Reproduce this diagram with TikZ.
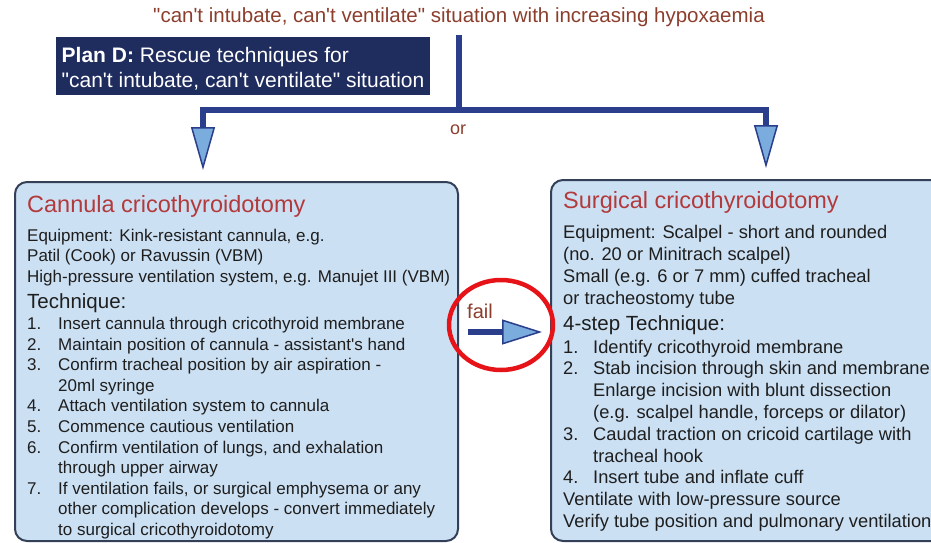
\documentclass[tikz,border=0pt]{standalone}
\usepackage{fontspec}
\setmainfont{Liberation Sans}[Ligatures=TeXOff]
\usepackage{tikz}
\usetikzlibrary{arrows.meta}
\definecolor{boxblue}{RGB}{204,224,243}
\definecolor{boxedge}{RGB}{52,64,88}
\definecolor{plannavy}{RGB}{31,44,94}
\definecolor{flowblue}{RGB}{42,62,140}
\definecolor{headblue}{RGB}{122,172,222}
\definecolor{toptext}{RGB}{140,62,45}
\definecolor{titlered}{RGB}{178,58,60}
\definecolor{bodytext}{RGB}{30,30,30}
\definecolor{ringred}{RGB}{230,20,25}
\newcommand\stepno[1]{\makebox[31pt][l]{#1}}
\newcommand\stepgap{\hspace*{31pt}}
\newcommand\rstepno[1]{\makebox[30pt][l]{#1}}
\newcommand\rstepgap{\hspace*{30pt}}

\begin{document}
\begin{tikzpicture}[
x=1pt,y=-1pt,
panel/.style={draw=boxedge,line width=2pt,rounded corners=12pt,fill=boxblue,inner sep=0pt},
body/.style={inner sep=0pt,anchor=north west,align=left,text=bodytext},
head/.style={inner sep=0pt,anchor=base west,text=titlered,font=\fontsize{23.5}{28}\selectfont},
subhead/.style={inner sep=0pt,anchor=base west,text=bodytext,font=\fontsize{20.5}{24}\selectfont},
flow/.style={draw=flowblue,line width=5.5pt,line join=miter},
>={Triangle[length=43pt,width=24pt,fill=headblue,line width=1.5pt]}
]
\useasboundingbox (0,0) rectangle (931,543);
\clip (0,0) rectangle (931,543);

% top of the chart
\node[inner sep=0pt,anchor=base,text=toptext,font=\fontsize{20.5}{24}\selectfont] (sit) at (459,23) {"can't intubate, can't ventilate" situation with increasing hypoxaemia};
\node[fill=plannavy,text=white,minimum width=374pt,minimum height=58pt,align=left,inner sep=0pt,font=\fontsize{21}{25}\selectfont] (planD) at (243,66) {\rule{0pt}{21pt}\textbf{Plan D:} Rescue techniques for\\"can't intubate, can't ventilate" situation};
\node[text=toptext,font=\fontsize{18}{22}\selectfont] (or) at (458,130) {or};

% the two panels
\node[panel,minimum width=443pt,minimum height=359pt] (cann) at (236.5,361.5) {};
\node[panel,minimum width=449pt,minimum height=361pt] (surg) at (775.5,360.5) {};

\node[head] (cannT) at (27,212) {Cannula cricothyroidotomy};
\node[body,font=\fontsize{17}{20.8}\selectfont] (cannE) at (27,228.5) {Equipment: Kink-resistant cannula, e.g.\\Patil (Cook) or Ravussin (VBM)\\High-pressure ventilation system, e.g. Manujet III (VBM)};
\node[subhead] (cannH) at (27,308.3) {Technique:};
\node[body,font=\fontsize{17}{20.57}\selectfont] (cannS) at (27,317.1) {\stepno{1.}Insert cannula through cricothyroid membrane\\
\stepno{2.}Maintain position of cannula - assistant's hand\\
\stepno{3.}Confirm tracheal position by air aspiration -\\
\stepgap 20ml syringe\\
\stepno{4.}Attach ventilation system to cannula\\
\stepno{5.}Commence cautious ventilation\\
\stepno{6.}Confirm ventilation of lungs, and exhalation\\
\stepgap through upper airway\\
\stepno{7.}If ventilation fails, or surgical emphysema or any\\
\stepgap other complication develops - convert immediately\\
\stepgap to surgical cricothyroidotomy};

\node[head] (surgT) at (563,208.3) {Surgical cricothyroidotomy};
\node[body,font=\fontsize{18.3}{21.9}\selectfont] (surgE) at (563,225.2) {Equipment: Scalpel - short and rounded\\(no. 20 or Minitrach scalpel)\\Small (e.g. 6 or 7 mm) cuffed tracheal\\or tracheostomy tube};
\node[subhead] (surgH) at (563,330.7) {4-step Technique:};
\node[body,font=\fontsize{18.3}{21.8}\selectfont] (surgS) at (563,339.6) {\rstepno{1.}Identify cricothyroid membrane\\
\rstepno{2.}Stab incision through skin and membrane\\
\rstepgap Enlarge incision with blunt dissection\\
\rstepgap (e.g. scalpel handle, forceps or dilator)\\
\rstepno{3.}Caudal traction on cricoid cartilage with\\
\rstepgap tracheal hook\\
\rstepno{4.}Insert tube and inflate cuff\\
Ventilate with low-pressure source\\
Verify tube position and pulmonary ventilation};

% connectors
\coordinate (split) at (sit.south |- 0,110);
\coordinate (lt) at (203,170);
\coordinate (rt) at (766,168);
\coordinate (failrow) at (0,332);
\draw[flow,shorten <=8pt] (sit) -- (split);
\draw[flow,->] (split) -| (lt);
\draw[flow,->] (split) -| (rt);
\draw[flow,-{Triangle[length=40pt,width=25pt,fill=headblue,line width=1.5pt]},shorten <=9pt,shorten >=8pt] (cann.east |- failrow) -- (surg.west |- failrow);
\node[inner sep=0pt,anchor=base west,text=toptext,font=\fontsize{20}{24}\selectfont] (fail) at (467,318) {fail};
\draw[ringred,line width=4.5pt] (501,325) ellipse [x radius=52pt,y radius=45pt];
\end{tikzpicture}
\end{document}
